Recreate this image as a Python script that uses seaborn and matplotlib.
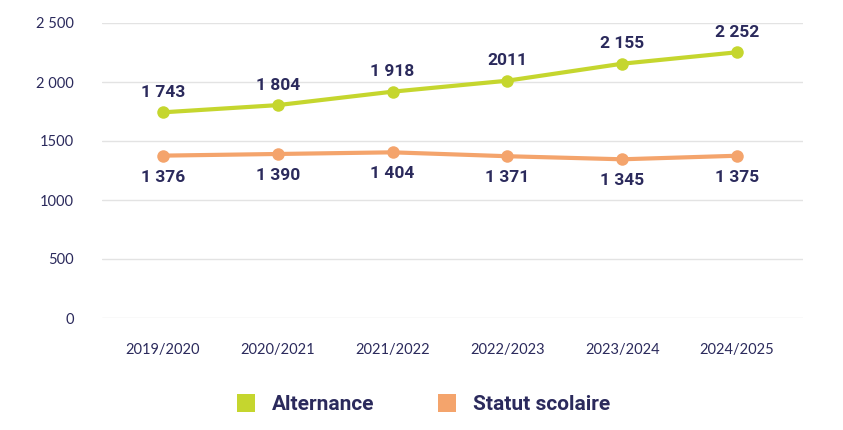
import matplotlib
matplotlib.use("Agg")
import matplotlib.pyplot as plt
import seaborn as sns
import pandas as pd
from matplotlib.lines import Line2D

# Data
years = ["2019/2020", "2020/2021", "2021/2022", "2022/2023", "2023/2024", "2024/2025"]
alternance = [1743, 1804, 1918, 2011, 2155, 2252]
statut_scolaire = [1376, 1390, 1404, 1371, 1345, 1375]
alternance_labels = ["1 743", "1 804", "1 918", "2011", "2 155", "2 252"]
statut_labels = ["1 376", "1 390", "1 404", "1 371", "1 345", "1 375"]
y_ticks = [0, 500, 1000, 1500, 2000, 2500]
y_tick_labels = ["0", "500", "1000", "1500", "2 000", "2 500"]
series_names = ["Alternance", "Statut scolaire"]

navy = "#2b2a5c"
colors = {"Alternance": "#c5d62e", "Statut scolaire": "#f4a46c"}

df = pd.DataFrame({
    "year": years * 2,
    "pos": list(range(len(years))) * 2,
    "value": alternance + statut_scolaire,
    "serie": ["Alternance"] * len(years) + ["Statut scolaire"] * len(years),
})

sns.set_style("white")
plt.rcParams["font.family"] = ["Roboto", "DejaVu Sans"]

fig = plt.figure(figsize=(8.43, 4.30), dpi=100)
ax = fig.add_axes([102 / 843, 1 - 318 / 430, (803 - 102) / 843, (318 - 23) / 430])

sns.lineplot(data=df, x="pos", y="value", hue="serie", palette=colors,
             marker="o", markersize=9, markeredgewidth=0, linewidth=3,
             legend=False, ax=ax, clip_on=False)

# value labels
for i, (v, lab) in enumerate(zip(alternance, alternance_labels)):
    ax.annotate(lab, (i, v), xytext=(0, 9), textcoords="offset points",
                ha="center", va="bottom", fontsize=12.5, color=navy, fontweight="semibold")
for i, (v, lab) in enumerate(zip(statut_scolaire, statut_labels)):
    ax.annotate(lab, (i, v), xytext=(0, -10), textcoords="offset points",
                ha="center", va="top", fontsize=12.5, color=navy, fontweight="semibold")

ax.set_xlim(-0.53, len(years) - 1 + 0.575)
ax.set_ylim(0, 2500)
ax.set_xticks(range(len(years)))
ax.set_xticklabels(years, fontsize=10.5, color=navy, family=["Lato", "DejaVu Sans"])
ax.set_yticks(y_ticks)
ax.set_yticklabels(y_tick_labels, fontsize=10.5, color=navy, family=["Lato", "DejaVu Sans"])
ax.tick_params(axis="y", length=0, pad=20)
ax.tick_params(axis="x", length=0, pad=18)
ax.grid(axis="y", color="#e3e3e3", linewidth=1)
ax.set_axisbelow(True)
for s in ax.spines.values():
    s.set_visible(False)
ax.set_xlabel("")
ax.set_ylabel("")

handles = [Line2D([], [], linestyle="none", marker="s", markersize=12.5,
                  markerfacecolor=colors[n], markeredgewidth=0) for n in series_names]
fig.legend(handles, series_names, loc="center", bbox_to_anchor=(423 / 843, 1 - 405 / 430),
           ncol=2, frameon=False, handlelength=1.0, handletextpad=0.75, columnspacing=3.0,
           prop={"family": "Roboto", "size": 15, "weight": "semibold"},
           labelcolor=navy)

fig.savefig("out.png", dpi=100)
